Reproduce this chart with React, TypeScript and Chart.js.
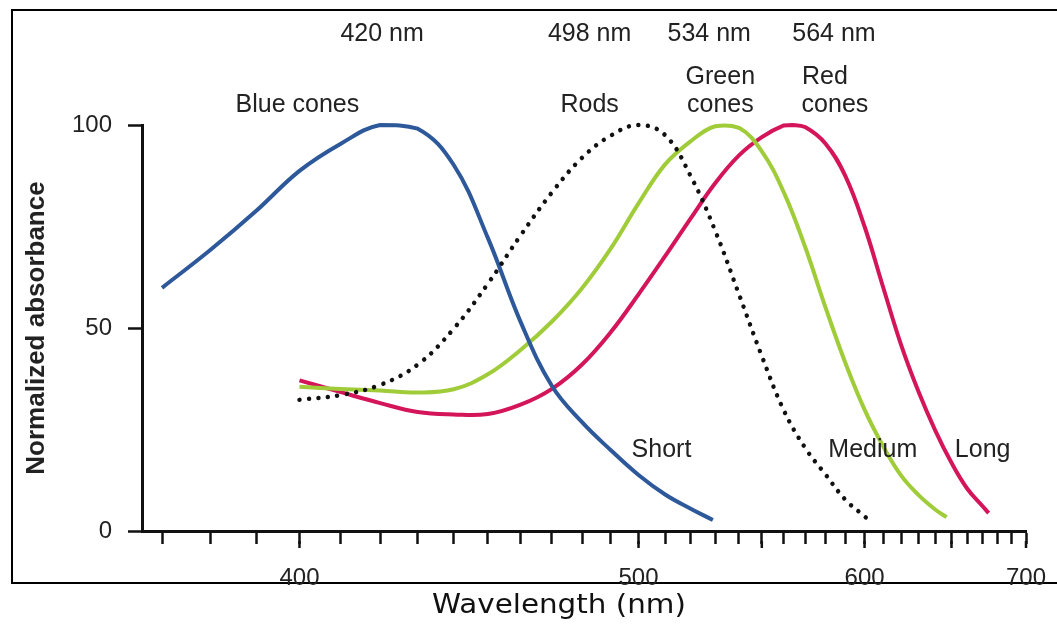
import React, { useEffect, useRef } from 'react';
import { Chart, registerables } from 'chart.js';

Chart.register(...registerables);

// ---- data (wavelength in nm, normalized absorbance) ----
const blueNm = [370, 380, 390, 400, 410, 420, 430, 440, 450, 460, 470, 480, 490, 500, 510, 520, 529];
const blueAbs = [59.9, 69.2, 78.8, 88.7, 95.4, 100, 99.1, 90.2, 72.2, 51.5, 35.7, 26.8, 19.9, 13.8, 9.0, 5.5, 2.7];

const rodNm = [400, 410, 420, 430, 440, 450, 460, 470, 480, 490, 500, 510, 520, 530, 540, 550, 560, 570, 580, 590, 600, 602];
const rodAbs = [32.3, 33.5, 36.0, 41.0, 49.8, 60.9, 72.8, 83.4, 91.9, 97.4, 100, 97.5, 87.4, 73.9, 58.3, 43.1, 29.7, 20.5, 13.9, 7.7, 3.6, 2.7];

const greenNm = [400, 410, 420, 430, 440, 450, 460, 470, 480, 490, 500, 510, 520, 530, 540, 550, 560, 570, 580, 590, 600, 610, 620, 630, 640, 647];
const greenAbs = [35.5, 35.0, 34.6, 34.1, 34.9, 38.6, 44.6, 51.6, 59.8, 69.6, 80.7, 90.3, 96.0, 99.7, 99.3, 93.5, 83.4, 70.0, 55.0, 41.4, 29.9, 20.9, 13.7, 8.9, 5.3, 3.4];

const redNm = [400, 410, 420, 430, 440, 450, 460, 470, 480, 490, 500, 510, 520, 530, 540, 550, 560, 564, 570, 580, 590, 600, 610, 620, 630, 640, 650, 660, 670, 674];
const redAbs = [37.1, 34.2, 31.5, 29.3, 28.7, 28.8, 31.1, 35.0, 41.0, 49.0, 58.3, 67.7, 77.0, 85.7, 92.5, 97.0, 99.9, 100, 99.5, 95.4, 87.4, 75.0, 60.1, 45.9, 34.4, 24.8, 16.8, 10.4, 6.1, 4.4];

// ---- axis ticks ----
const tickNm = [370, 380, 390, 400, 410, 420, 430, 440, 450, 460, 470, 480, 490, 500, 510, 520, 530, 540, 550, 560, 570, 580, 590, 600, 610, 620, 630, 640, 650, 660, 670, 680, 690, 700];
const labeledNm = [400, 500, 600, 700];
const longTickNm = [400, 500, 550, 600, 650, 700];
const yTicks = [0, 50, 100];
const axisMinNm = 366;
const axisMaxNm = 700;

// ---- annotations (text, anchor wavelength, anchor absorbance) ----
const labelTexts = ['420 nm', '498 nm', '534 nm', '564 nm', 'Blue cones', 'Rods', 'Green', 'cones', 'Red', 'cones', 'Short', 'Medium', 'Long'];
const labelNm = [420.5, 482.6, 527.5, 584.2, 399.5, 482.6, 532.1, 532.1, 579.7, 584.7, 508.6, 604.4, 670];
const labelAbs = [122.4, 122.4, 122.4, 122.4, 104.9, 104.9, 111.8, 104.9, 111.8, 104.9, 20, 20, 20];

// the wavelength axis is linear in wavenumber
const toX = (nm: number) => -1e7 / nm;
const toNm = (v: number) => -1e7 / v;

const series = (nm: number[], abs: number[]) => nm.map((l, i) => ({ x: toX(l), y: abs[i] }));

const FONT = '"Liberation Sans", Arial, Helvetica, sans-serif';

const annotatePlugin = {
  id: 'annotate',
  afterDraw(chart: any) {
    const { ctx } = chart;
    const x = chart.scales.x;
    const y = chart.scales.y;
    ctx.save();
    ctx.strokeStyle = '#111';
    ctx.lineWidth = 2.5;
    longTickNm.forEach((nm) => {
      const px = x.getPixelForValue(toX(nm));
      ctx.beginPath();
      ctx.moveTo(px, y.bottom + 10);
      ctx.lineTo(px, y.bottom + 17);
      ctx.stroke();
    });
    ctx.fillStyle = '#222';
    ctx.textAlign = 'center';
    ctx.textBaseline = 'middle';
    ctx.font = '25px ' + FONT;
    labelTexts.forEach((t, i) => {
      ctx.fillText(t, x.getPixelForValue(toX(labelNm[i])), y.getPixelForValue(labelAbs[i]));
    });
    // caption below the framed figure
    ctx.fillStyle = '#111';
    ctx.font = '26px "DejaVu Sans", "Open Sans", sans-serif';
    ctx.textBaseline = 'alphabetic';
    ctx.translate(559, 613);
    ctx.scale(1.13, 1);
    ctx.fillText('Wavelength (nm)', 0, 0);
    ctx.restore();
  },
};

export default function App() {
  const canvasRef = useRef<HTMLCanvasElement | null>(null);

  useEffect(() => {
    if (!canvasRef.current) return;
    const common = { pointRadius: 0, tension: 0.4, fill: false, clip: 10 };
    const chart = new Chart(canvasRef.current, {
      type: 'line',
      data: {
        datasets: [
          {
            label: 'Rods',
            data: series(rodNm, rodAbs),
            borderColor: '#111',
            borderWidth: 4.5,
            borderDash: [0.01, 9.5],
            borderCapStyle: 'round',
            ...common,
          },
          {
            label: 'Short',
            data: series(blueNm, blueAbs),
            borderColor: '#2d5899',
            borderWidth: 4,
            ...common,
          },
          {
            label: 'Medium',
            data: series(greenNm, greenAbs),
            borderColor: '#a0cc3a',
            borderWidth: 4,
            ...common,
          },
          {
            label: 'Long',
            data: series(redNm, redAbs),
            borderColor: '#d4155a',
            borderWidth: 4,
            ...common,
          },
        ],
      },
      options: {
        animation: false,
        responsive: false,
        devicePixelRatio: 1,
        layout: { padding: { left: 0, right: 31, top: 125, bottom: 36 } },
        plugins: { legend: { display: false }, tooltip: { enabled: false } },
        scales: {
          x: {
            type: 'linear',
            min: toX(axisMinNm),
            max: toX(axisMaxNm),
            afterBuildTicks: (scale: any) => {
              scale.ticks = tickNm.map((l) => ({ value: toX(l) }));
            },
            afterFit: (scale: any) => {
              scale.height = 60;
              scale.paddingLeft = 0;
              scale.paddingRight = 0;
            },
            border: { display: true, color: '#111', width: 3 },
            grid: { drawOnChartArea: false, drawTicks: true, tickLength: 13, tickColor: '#111', tickWidth: 2.5 },
            ticks: {
              autoSkip: false,
              maxRotation: 0,
              padding: 20,
              color: '#222',
              font: { family: FONT, size: 24 },
              callback: (value: any) => {
                const l = Math.round(toNm(Number(value)));
                return labeledNm.includes(l) ? String(l) : '';
              },
            },
          },
          y: {
            type: 'linear',
            min: 0,
            max: 100,
            afterBuildTicks: (scale: any) => {
              scale.ticks = yTicks.map((v) => ({ value: v }));
            },
            afterFit: (scale: any) => {
              scale.width = 142;
              scale.paddingTop = 0;
              scale.paddingBottom = 0;
            },
            border: { display: true, color: '#111', width: 3 },
            grid: { drawOnChartArea: false, drawTicks: true, tickLength: 14, tickColor: '#111', tickWidth: 2.5 },
            ticks: {
              padding: 16,
              color: '#222',
              font: { family: FONT, size: 24 },
            },
            title: {
              display: true,
              text: 'Normalized absorbance',
              color: '#222',
              font: { family: FONT, size: 26, weight: 'bold' },
              padding: { top: 21, bottom: 0 },
            },
          },
        },
      },
      plugins: [annotatePlugin],
    } as any);
    return () => chart.destroy();
  }, []);

  return (
    <div style={{ position: 'fixed', left: 0, top: 0, width: 1057, height: 627, overflow: 'hidden', background: '#fff' }}>
      <div
        style={{
          position: 'absolute',
          left: 11,
          top: 9,
          width: 1100,
          height: 575,
          boxSizing: 'border-box',
          border: '2px solid #000',
        }}
      />
      <canvas
        ref={canvasRef}
        width={1057}
        height={627}
        style={{ position: 'absolute', left: 0, top: 0, width: 1057, height: 627 }}
      />
    </div>
  );
}
